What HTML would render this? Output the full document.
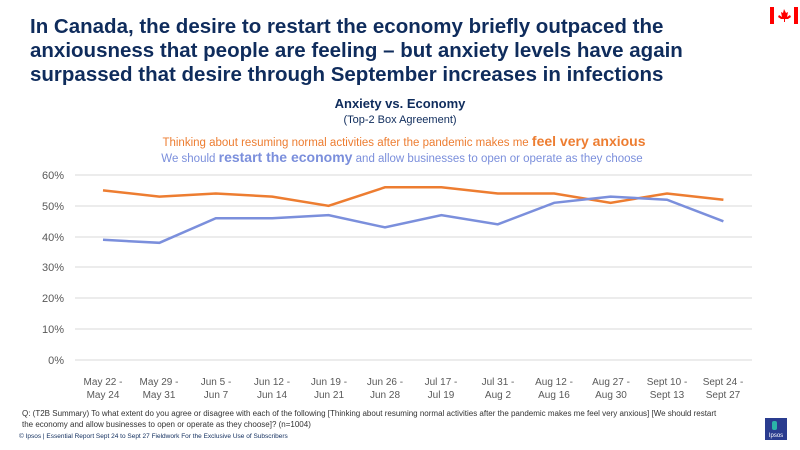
<!DOCTYPE html>
<html><head><meta charset="utf-8"><style>
body{margin:0;width:800px;height:450px;background:#fff;font-family:"Liberation Sans",sans-serif;position:relative;overflow:hidden}
.t{position:absolute;left:30px;top:15px;font-size:20.5px;font-weight:bold;color:#0f2c5c;line-height:24px;width:760px;white-space:nowrap}
</style></head><body>
<div class="t">In Canada, the desire to restart the economy briefly outpaced the<br>anxiousness that people are feeling – but anxiety levels have again<br>surpassed that desire through September increases in infections</div>
<svg width="800" height="450" style="position:absolute;left:0;top:0">
<g fill="#ff0000"><rect x="770" y="7" width="4" height="17"/><rect x="794" y="7" width="4" height="17"/>
<path d="M784 9 l2 4 2-1 -1 5 3-2 1 2 -3 2 -3 0 0 3 -1 0 0-3 -3 0 -3-2 1-2 3 2 -1-5 2 1z"/></g>
<text x="400" y="108" text-anchor="middle" font-size="13" font-weight="bold" fill="#0f2c5c">Anxiety vs. Economy</text>
<text x="400" y="123" text-anchor="middle" font-size="11" fill="#0f2c5c">(Top-2 Box Agreement)</text>
<text x="404" y="146" text-anchor="middle" font-size="11.5" fill="#ed7d31">Thinking  about resuming normal activities after the pandemic makes me <tspan font-weight="bold" font-size="14">feel very anxious</tspan></text>
<text x="402" y="162" text-anchor="middle" font-size="11.5" fill="#7b8fdc">We should  <tspan font-weight="bold" font-size="14">restart the economy</tspan> and allow businesses to open or operate as they choose</text>
<g stroke="#d9d9d9" stroke-width="1">
<line x1="75" x2="752" y1="175" y2="175"/><line x1="75" x2="752" y1="206" y2="206"/><line x1="75" x2="752" y1="237" y2="237"/><line x1="75" x2="752" y1="267" y2="267"/><line x1="75" x2="752" y1="298" y2="298"/><line x1="75" x2="752" y1="329" y2="329"/><line x1="75" x2="752" y1="360" y2="360"/></g>
<g font-size="11" fill="#595959" text-anchor="end">
<text x="64" y="179">60%</text><text x="64" y="210">50%</text><text x="64" y="241">40%</text><text x="64" y="271">30%</text><text x="64" y="302">20%</text><text x="64" y="333">10%</text><text x="64" y="364">0%</text></g>
<polyline fill="none" stroke="#ed7d31" stroke-width="2.5" points="103,190.4 159.4,196.6 215.8,193.5 272.2,196.6 328.6,205.8 385,187.3 441.4,187.3 497.8,193.5 554.2,193.5 610.6,202.8 667,193.5 723.4,199.7"/>
<polyline fill="none" stroke="#7b8fdc" stroke-width="2.5" points="103,239.8 159.4,242.8 215.8,218.2 272.2,218.2 328.6,215.1 385,227.4 441.4,215.1 497.8,224.3 554.2,202.8 610.6,196.6 667,199.7 723.4,221.3"/>
<g font-size="10" fill="#595959" text-anchor="middle">
<text x="103" y="385">May 22 -</text><text x="103" y="398">May 24</text>
<text x="159" y="385">May 29 -</text><text x="159" y="398">May 31</text>
<text x="216" y="385">Jun 5 -</text><text x="216" y="398">Jun 7</text>
<text x="272" y="385">Jun 12 -</text><text x="272" y="398">Jun 14</text>
<text x="329" y="385">Jun 19 -</text><text x="329" y="398">Jun 21</text>
<text x="385" y="385">Jun 26 -</text><text x="385" y="398">Jun 28</text>
<text x="441" y="385">Jul 17 -</text><text x="441" y="398">Jul 19</text>
<text x="498" y="385">Jul 31 -</text><text x="498" y="398">Aug 2</text>
<text x="554" y="385">Aug 12 -</text><text x="554" y="398">Aug 16</text>
<text x="611" y="385">Aug 27 -</text><text x="611" y="398">Aug 30</text>
<text x="667" y="385">Sept 10 -</text><text x="667" y="398">Sept 13</text>
<text x="723" y="385">Sept 24 -</text><text x="723" y="398">Sept 27</text></g>
<text x="22" y="416" font-size="8" fill="#333">Q: (T2B Summary) To what extent do you agree or disagree with each of the following [Thinking about resuming normal activities after the pandemic makes me feel very anxious] [We should restart</text>
<text x="22" y="427" font-size="8" fill="#333">the economy and allow businesses to open or operate as they choose]? (n=1004)</text>
<text x="19" y="438" font-size="6.5" fill="#0f2c5c">© Ipsos  |  Essential Report  Sept 24 to Sept 27 Fieldwork  For the Exclusive Use of Subscribers</text>
<rect x="765" y="418" width="22" height="22" fill="#2a3c8f"/><rect x="772" y="421" width="5" height="9" rx="2" fill="#2bb5a8"/>
<text x="776" y="437" font-size="6" fill="#fff" text-anchor="middle">Ipsos</text>
</svg>
</body></html>
